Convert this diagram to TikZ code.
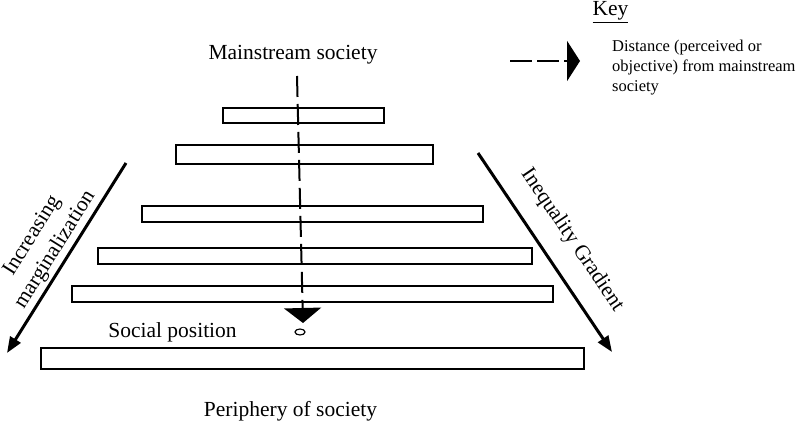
\documentclass[tikz,border=0pt]{standalone}
\usepackage{fontspec}
\setmainfont{Liberation Serif}
\usetikzlibrary{shapes.geometric, arrows.meta, positioning}

\begin{document}
\begin{tikzpicture}[
  x=1pt, y=-1pt,
  bar/.style={rectangle, draw, line width=1.5pt, inner sep=0pt, minimum height=16pt},
  plaintext/.style={inner sep=0pt, font=\fontsize{21.5}{27}\selectfont},
  keytext/.style={inner sep=0pt, font=\fontsize{16.5}{20}\selectfont, align=left},
  distarrow/.style={-{Triangle[length=15pt,width=37pt]}, line width=2pt, dash pattern=on 21pt off 7pt},
  keyarrow/.style={-{Triangle[length=13pt,width=40pt]}, line width=2.5pt, dash pattern=on 22pt off 5pt},
  gradient/.style={-{Triangle[length=16pt,width=12pt]}, line width=3pt}
]
  \useasboundingbox (0,0) rectangle (800,425);

  % key
  \node[plaintext, anchor=base] (key) at (610.5,16) {\underline{Key}};
  \coordinate (keystart) at (510,61);
  \coordinate (keyend) at (580,61);
  \draw[keyarrow] (keystart) -- (keyend);
  \node[keytext, anchor=north west] (keylabel) at (612,40) {Distance (perceived or\\objective) from mainstream\\society};

  % levels
  \node[plaintext, anchor=base] (main) at (293,60) {Mainstream society};
  \node[bar, minimum width=161pt, minimum height=15pt] (bar1) at (303.5,115.5) {};
  \node[bar, minimum width=257pt, minimum height=19pt] (bar2) at (304.5,154.5) {};
  \node[bar, minimum width=341pt] (bar3) at (312.5,214) {};
  \node[bar, minimum width=434pt] (bar4) at (315,256) {};
  \node[bar, minimum width=481pt] (bar5) at (312.5,294) {};
  \node[bar, minimum width=543pt, minimum height=21pt] (bar6) at (312.5,358.5) {};
  \node[plaintext, anchor=base] (social) at (172.5,337) {Social position};
  \node[plaintext, anchor=base] (periphery) at (290.5,416) {Periphery of society};

  % distance from the mainstream
  \coordinate (top) at (297,76);
  \coordinate (tip) at (303,323);
  \draw[distarrow] (top) -- (tip);
  \node[ellipse, draw, line width=1.2pt, inner sep=0pt, minimum width=10pt, minimum height=6pt] (pos) at (300,332) {};

  % gradients
  \coordinate (lefttop) at (126,163);
  \coordinate (leftend) at (7,353);
  \draw[gradient] (lefttop) -- (leftend);
  \node[plaintext, align=center, rotate=58] (marg) at (44,243) {Increasing\\marginalization};

  \coordinate (righttop) at (478,153);
  \coordinate (rightend) at (612,352);
  \draw[gradient] (righttop) -- (rightend);
  \node[plaintext, rotate=-56] (ineq) at (572,240) {Inequality Gradient};
\end{tikzpicture}
\end{document}
